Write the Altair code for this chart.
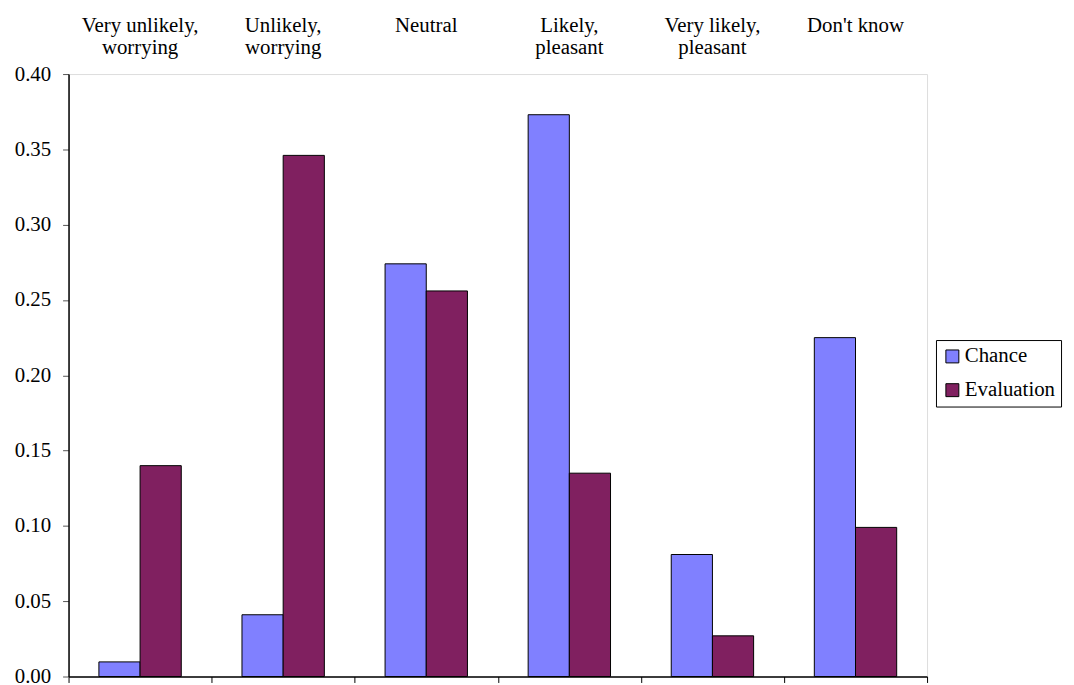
import altair as alt
import pandas as pd

categories = ["Very unlikely,|worrying", "Unlikely,|worrying", "Neutral",
              "Likely,|pleasant", "Very likely,|pleasant", "Don't know"]
series = ["Chance", "Evaluation"]
chance = [0.0097, 0.041, 0.274, 0.373, 0.081, 0.225]
evaluation = [0.140, 0.346, 0.256, 0.135, 0.027, 0.099]
colors = ["#8080FF", "#802060"]
y_ticks = [0.0, 0.05, 0.10, 0.15, 0.20, 0.25, 0.30, 0.35, 0.40]

rows = []
for c, a, b in zip(categories, chance, evaluation):
    rows.append({"cat": c, "series": "Chance", "value": a})
    rows.append({"cat": c, "series": "Evaluation", "value": b})
df = pd.DataFrame(rows)

FONT = "'Liberation Serif', 'Times New Roman', serif"
FS = 21

xscale = alt.Scale(domain=categories, paddingInner=0, paddingOuter=0)
offscale = alt.Scale(paddingInner=0, paddingOuter=0.737)
yscale = alt.Scale(domain=[0, 0.4], nice=False)
cscale = alt.Scale(domain=series, range=colors)

yaxis = alt.Axis(values=y_ticks, format=".2f", grid=False, tickSize=6,
                 tickColor="#555555", domainColor="black", domainWidth=1.5,
                 labelFont=FONT, labelFontSize=FS, labelColor="black",
                 labelPadding=12)

bars = alt.Chart(df).mark_bar(stroke="black", strokeWidth=1).encode(
    x=alt.X("cat:N", scale=xscale, sort=categories, title=None,
            axis=alt.Axis(orient="bottom", labels=False, ticks=True, tickBand="extent",
                          tickSize=6, tickColor="black", domainColor="black",
                          domainWidth=1.5, grid=False)),
    xOffset=alt.XOffset("series:N", sort=series, scale=offscale),
    y=alt.Y("value:Q", scale=yscale, title=None, axis=yaxis),
    color=alt.Color("series:N", scale=cscale, sort=series,
                    legend=alt.Legend(title=None, orient="none", legendX=874, legendY=268,
                                      strokeColor="black", fillColor="white", padding=6,
                                      symbolType="square", symbolSize=170,
                                      symbolStrokeColor="black", symbolStrokeWidth=1,
                                      labelFont=FONT, labelFontSize=FS, labelColor="black",
                                      rowPadding=12, labelOffset=2)),
)

toplabels = alt.Chart(df).mark_bar(opacity=0).encode(
    x=alt.X("cat:N", scale=xscale, sort=categories, title=None,
            axis=alt.Axis(orient="top", domain=False, ticks=False, tickSize=0,
                          labelExpr="split(datum.label, '|')", labelAngle=0,
                          labelBaseline="alphabetic", labelLineHeight=22,
                          labelPadding=43, labelFont=FONT, labelFontSize=FS,
                          labelColor="black", labelAlign="center")),
    xOffset=alt.XOffset("series:N", sort=series, scale=offscale),
    y=alt.Y("value:Q", scale=yscale, title=None, axis=yaxis),
)

chart = alt.layer(bars, toplabels).properties(
    width=865, height=607,
    autosize=alt.AutoSizeParams(type="none"),
    padding={"left": 61, "top": 64, "right": 140, "bottom": 6},
).configure_view(stroke="#888888", strokeWidth=1.5).configure(background="white")

chart.save("out.html", embed_options={"renderer": "svg", "actions": False})
